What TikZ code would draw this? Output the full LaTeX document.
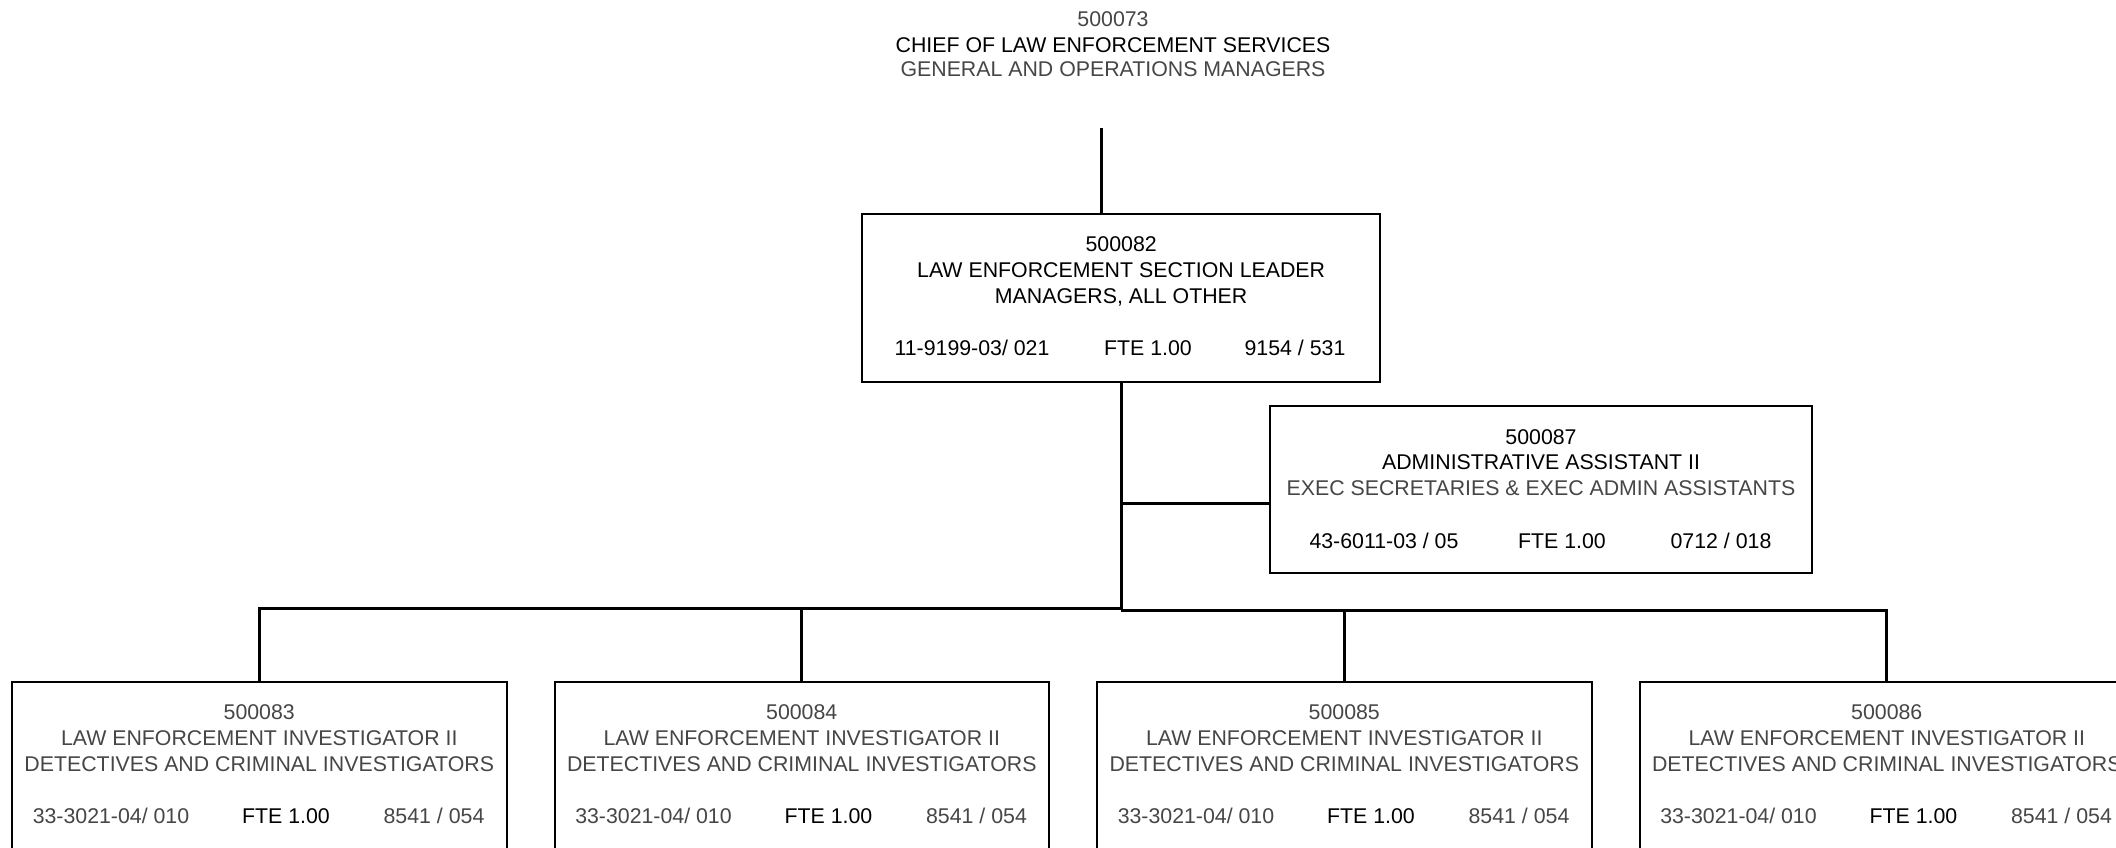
\documentclass[tikz,border=0pt]{standalone}
\usepackage{fontspec}
\setmainfont{Liberation Sans}
\usetikzlibrary{calc}
\definecolor{inkgray}{RGB}{70,70,70}
\tikzset{
  x=0.5pt, y=-0.5pt,
  posbox/.style={draw=black, line width=1pt, rectangle, inner sep=0pt,
    anchor=north west, minimum height=84pt},
  lbl/.style={anchor=base, inner sep=0pt, font=\fontsize{10.66pt}{12.8pt}\selectfont},
  link/.style={line width=1.5pt, draw=black},
  idcol/.style={text=black}, titlecol/.style={text=black}, catcol/.style={text=inkgray},
  codecol/.style={text=black}, ftecol/.style={text=black}, gradecol/.style={text=black},
}
% #1 name, #2 left, #3 top, #4 width, #5 id, #6 title, #7 category, #8 code, #9 grade
\newcommand\orgbox[9]{%
  \node[posbox, minimum width=#4] (#1) at (#2,#3) {};
  \node[lbl, idcol] (#1-id) at ($(#1.north)+(0,39.2)$) {#5};
  \node[lbl, titlecol] (#1-title) at ($(#1.north)+(0,64.7)$) {#6};
  \node[lbl, catcol] (#1-cat) at ($(#1.north)+(0,90.4)$) {#7};
  \node[lbl, codecol] (#1-code) at ($(#1.north west)+(\colA,143)$) {#8};
  \node[lbl, ftecol] (#1-fte) at ($(#1.north west)+(\colB,143)$) {FTE 1.00};
  \node[lbl, gradecol] (#1-grade) at ($(#1.north west)+(\colC,143)$) {#9};
}
\begin{document}
\begin{tikzpicture}
\clip (0,0) rectangle (2116,847);
\fill[white] (0,0) rectangle (2116,847);

% head position, shown as plain text
\node[lbl, text=inkgray] (chief-id) at (1113,26.6) {500073};
\node[lbl] (chief-title) at (1113,52.1) {CHIEF OF LAW ENFORCEMENT SERVICES};
\node[lbl, text=inkgray] (chief-cat) at (1113,76.6) {GENERAL AND OPERATIONS MANAGERS};
\coordinate (chief-stub) at (1101,128);

% section leader
\begin{scope}[catcol/.style={text=black}]
\def\colA{111}\def\colB{287}\def\colC{434}
\orgbox{b82}{861}{212.7}{259.15pt}{500082}{LAW ENFORCEMENT SECTION LEADER}{MANAGERS, ALL OTHER}{11-9199-03/ 021}{9154 / 531}
\end{scope}

% administrative assistant
\begin{scope}[posbox/.append style={minimum height=83.65pt}]
\def\colA{115}\def\colB{293}\def\colC{452}
\orgbox{b87}{1269}{405}{271pt}{500087}{ADMINISTRATIVE ASSISTANT II}{EXEC SECRETARIES \& EXEC ADMIN ASSISTANTS}{43-6011-03 / 05}{0712 / 018}
\end{scope}

% investigators
\begin{scope}[idcol/.style={text=inkgray}, titlecol/.style={text=inkgray},
  codecol/.style={text=inkgray}, gradecol/.style={text=inkgray}]
\def\colA{100}\def\colB{275}\def\colC{423}
\orgbox{b83}{11}{680.7}{247.25pt}{500083}{LAW ENFORCEMENT INVESTIGATOR II}{DETECTIVES AND CRIMINAL INVESTIGATORS}{33-3021-04/ 010}{8541 / 054}
\orgbox{b84}{553.5}{680.7}{247.25pt}{500084}{LAW ENFORCEMENT INVESTIGATOR II}{DETECTIVES AND CRIMINAL INVESTIGATORS}{33-3021-04/ 010}{8541 / 054}
\orgbox{b85}{1096}{680.7}{247.25pt}{500085}{LAW ENFORCEMENT INVESTIGATOR II}{DETECTIVES AND CRIMINAL INVESTIGATORS}{33-3021-04/ 010}{8541 / 054}
\orgbox{b86}{1638.5}{680.7}{247.25pt}{500086}{LAW ENFORCEMENT INVESTIGATOR II}{DETECTIVES AND CRIMINAL INVESTIGATORS}{33-3021-04/ 010}{8541 / 054}
\end{scope}

% connectors
\coordinate (hub) at ($(b82.south)+(0,227.6)$);
\coordinate (j87) at ($(b82.south)+(0,120.6)$);
\coordinate (leftbus) at ($(b82.south)+(0,226)$);
\draw[link] (chief-stub) -- (chief-stub |- b82.north);
\draw[link] (b82.south) -- (hub);
\draw[link] (j87) -- (j87 -| b87.west);
\draw[link] (leftbus) -- (leftbus -| b83.north) -- (b83.north);
\draw[link] (leftbus -| b84.north) -- (b84.north);
\draw[link] (hub) -- (hub -| b86.north) -- (b86.north);
\draw[link] (hub -| b85.north) -- (b85.north);
\end{tikzpicture}
\end{document}
